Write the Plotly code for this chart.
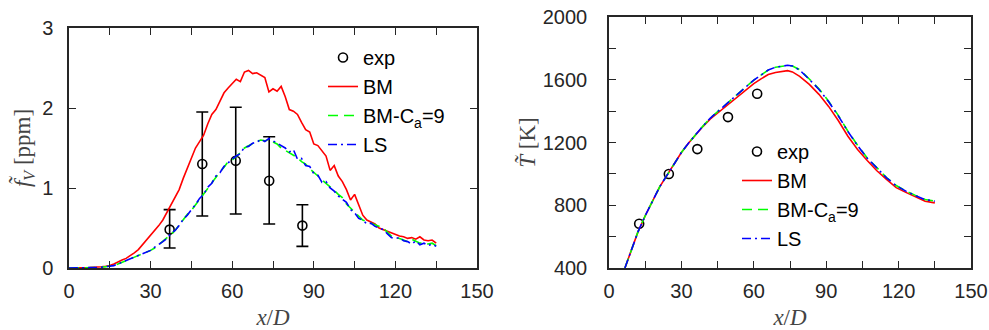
import plotly.graph_objects as go

# ---------------- Left panel: soot volume fraction ----------------
fv_x = [0, 1.5, 3, 4.5, 6, 7.5, 9, 10.5, 12, 13.5, 15, 16.5, 18, 19.5, 21, 22.5, 24, 25.5, 27, 28.5,
        30, 31.5, 33, 34.5, 36, 37.5, 39, 40.5, 42, 43.5, 45, 46.5, 48, 49.5, 51, 52.5, 54, 55.5, 57, 58.5,
        60, 61.5, 63, 64.5, 66, 67.5, 69, 70.5, 72, 73.5, 75, 76.5, 78, 79.5, 81, 82.5, 84, 85.5, 87, 88.5,
        90, 91.5, 93, 94.5, 96, 97.5, 99, 100.5, 102, 103.5, 105, 106.5, 108, 109.5, 111, 112.5, 114, 115.5,
        117, 118.5, 120, 121.5, 123, 124.5, 126, 127.5, 129, 130.5, 132, 133.5, 135]

fv_bm = [0, 0, 0, 0, 0, 0.005, 0.01, 0.01, 0.015, 0.02, 0.03, 0.05, 0.08, 0.10, 0.12, 0.15, 0.19, 0.23, 0.29, 0.35,
         0.41, 0.46, 0.53, 0.60, 0.70, 0.80, 0.88, 0.98, 1.12, 1.24, 1.38, 1.50, 1.58, 1.66, 1.80, 1.92, 1.98, 2.08, 2.19, 2.25,
         2.30, 2.36, 2.33, 2.45, 2.47, 2.43, 2.44, 2.41, 2.38, 2.20, 2.24, 2.21, 2.27, 2.14, 1.98, 1.96, 1.92, 1.82, 1.73, 1.70,
         1.55, 1.53, 1.47, 1.40, 1.22, 1.28, 1.15, 1.08, 0.98, 0.85, 0.92, 0.78, 0.66, 0.60, 0.58, 0.55, 0.50, 0.48,
         0.45, 0.43, 0.41, 0.40, 0.39, 0.37, 0.38, 0.36, 0.39, 0.35, 0.34, 0.35, 0.31]

fv_bmca = [0, 0, 0, 0, 0, 0.003, 0.005, 0.007, 0.01, 0.015, 0.02, 0.03, 0.05, 0.07, 0.09, 0.11, 0.13, 0.15, 0.17, 0.19,
           0.22, 0.25, 0.29, 0.33, 0.38, 0.42, 0.47, 0.54, 0.60, 0.67, 0.72, 0.79, 0.86, 0.93, 1.00, 1.07, 1.14, 1.20, 1.26, 1.33,
           1.35, 1.39, 1.44, 1.50, 1.53, 1.55, 1.58, 1.60, 1.59, 1.60, 1.57, 1.55, 1.50, 1.47, 1.44, 1.42, 1.38, 1.33, 1.30, 1.24,
           1.20, 1.15, 1.10, 1.06, 1.02, 0.97, 0.92, 0.88, 0.80, 0.75, 0.70, 0.66, 0.60, 0.58, 0.56, 0.54, 0.52, 0.50,
           0.45, 0.40, 0.38, 0.37, 0.35, 0.33, 0.36, 0.33, 0.31, 0.32, 0.30, 0.31, 0.28]

fv_ls = [0, 0, 0, 0, 0, 0.003, 0.005, 0.007, 0.01, 0.015, 0.02, 0.03, 0.05, 0.07, 0.09, 0.11, 0.13, 0.15, 0.17, 0.20,
         0.22, 0.26, 0.29, 0.33, 0.37, 0.43, 0.47, 0.53, 0.61, 0.66, 0.73, 0.79, 0.87, 0.92, 1.01, 1.06, 1.15, 1.19, 1.27, 1.32,
         1.36, 1.40, 1.43, 1.51, 1.52, 1.56, 1.57, 1.61, 1.58, 1.62, 1.59, 1.56, 1.52, 1.50, 1.45, 1.48, 1.36, 1.37, 1.28, 1.27,
         1.18, 1.16, 1.07, 1.08, 1.00, 0.96, 0.90, 0.86, 0.82, 0.73, 0.69, 0.62, 0.60, 0.55, 0.56, 0.52, 0.50, 0.48,
         0.43, 0.38, 0.37, 0.38, 0.34, 0.33, 0.30, 0.34, 0.29, 0.31, 0.28, 0.30, 0.27]

fv_exp_x = [37, 49, 61.3, 73.6, 85.8]
fv_exp = [0.48, 1.30, 1.34, 1.09, 0.53]
fv_exp_hi = [0.73, 1.95, 2.01, 1.64, 0.79]
fv_exp_lo = [0.25, 0.65, 0.675, 0.55, 0.27]

# ---------------- Right panel: temperature ----------------
T_x = [6.6, 9, 12, 15, 18, 21, 24, 27, 30, 33, 36, 39, 42, 45, 48, 51, 54, 57, 60, 63,
       66, 69, 72, 74, 76, 79, 83, 87, 91, 95, 99, 103, 107, 111, 115, 119, 123, 127, 131, 135]

T_bm = [400, 502, 630, 733, 826, 917, 990, 1063, 1136, 1197, 1252, 1303, 1350, 1387, 1426, 1465, 1504, 1541, 1575, 1606,
        1633, 1646, 1654, 1658, 1650, 1622, 1570, 1507, 1430, 1340, 1240, 1155, 1085, 1020, 965, 912, 882, 855, 826, 815]

T_bmca = [400, 502, 630, 733, 826, 917, 990, 1063, 1136, 1197, 1253, 1306, 1356, 1397, 1440, 1480, 1522, 1562, 1598, 1630,
          1662, 1680, 1689, 1691, 1688, 1664, 1605, 1542, 1463, 1373, 1272, 1182, 1102, 1036, 976, 926, 891, 863, 837, 827]

T_ls = [400, 502, 630, 733, 826, 917, 990, 1063, 1136, 1197, 1253, 1306, 1356, 1397, 1440, 1480, 1522, 1562, 1598, 1630,
        1662, 1680, 1690, 1692, 1688, 1662, 1602, 1538, 1460, 1370, 1270, 1180, 1100, 1035, 975, 925, 890, 862, 836, 826]

T_exp_x = [12.5, 24.8, 36.6, 49.3, 61.4]
T_exp = [682, 999, 1158, 1362, 1511]

legend_names = ["exp", "BM", "BM-C<sub>a</sub>=9", "LS"]

# ---------------- styles ----------------
AX = "#262626"
SANS = "Liberation Sans, Arial, sans-serif"
SERIF = "Liberation Serif, Times New Roman, serif"
RED, GREEN, BLUE = "#ff0000", "#00ff00", "#0000ff"
LW = 1.6

fig = go.Figure()

# left panel traces
fig.add_trace(go.Scatter(
    x=fv_exp_x, y=fv_exp, mode="markers", name=legend_names[0], legend="legend",
    marker=dict(symbol="circle-open", size=9, color="black", line=dict(width=1.6, color="black")),
    error_y=dict(type="data", symmetric=False,
                 array=[h - v for h, v in zip(fv_exp_hi, fv_exp)],
                 arrayminus=[v - l for v, l in zip(fv_exp, fv_exp_lo)],
                 color="black", thickness=1.6, width=6),
    xaxis="x", yaxis="y"))
fig.add_trace(go.Scatter(x=fv_x, y=fv_bm, mode="lines", name=legend_names[1], legend="legend",
                         line=dict(color=RED, width=LW), xaxis="x", yaxis="y"))
fig.add_trace(go.Scatter(x=fv_x, y=fv_bmca, mode="lines", name=legend_names[2], legend="legend",
                         line=dict(color=GREEN, width=LW, dash="10px,6px"), xaxis="x", yaxis="y"))
fig.add_trace(go.Scatter(x=fv_x, y=fv_ls, mode="lines", name=legend_names[3], legend="legend",
                         line=dict(color=BLUE, width=LW, dash="9px,4px,2px,4px"), xaxis="x", yaxis="y"))

# right panel traces
fig.add_trace(go.Scatter(x=T_exp_x, y=T_exp, mode="markers", name=legend_names[0], legend="legend2",
                         marker=dict(symbol="circle-open", size=9, color="black",
                                     line=dict(width=1.6, color="black")),
                         xaxis="x2", yaxis="y2"))
fig.add_trace(go.Scatter(x=T_x, y=T_bm, mode="lines", name=legend_names[1], legend="legend2",
                         line=dict(color=RED, width=LW), xaxis="x2", yaxis="y2"))
fig.add_trace(go.Scatter(x=T_x, y=T_bmca, mode="lines", name=legend_names[2], legend="legend2",
                         line=dict(color=GREEN, width=LW, dash="10px,6px"), xaxis="x2", yaxis="y2"))
fig.add_trace(go.Scatter(x=T_x, y=T_ls, mode="lines", name=legend_names[3], legend="legend2",
                         line=dict(color=BLUE, width=LW, dash="9px,4px,2px,4px"), xaxis="x2", yaxis="y2"))

W, H = 989, 330


def xax(domain, title):
    return dict(domain=domain, range=[0, 150], dtick=30, tick0=0,
                ticks="inside", ticklen=7, tickwidth=1.2, tickcolor=AX,
                minor=dict(dtick=15, tick0=0, ticks="inside", ticklen=7, tickwidth=1.2, tickcolor=AX, showgrid=False),
                showline=True, linecolor=AX, linewidth=1.5, mirror="ticks",
                showgrid=False, zeroline=False, automargin=False,
                ticklabelstandoff=4, ticklabeloverflow="allow",
                tickfont=dict(family=SANS, size=20, color=AX),
                title=dict(text=title, font=dict(family=SERIF, size=23, color="#444444"), standoff=8))


def yax(domain, rng, dtick, minor_dtick, title, anchor, standoff, lab_off):
    return dict(domain=domain, range=rng, dtick=dtick, tick0=rng[0], anchor=anchor,
                ticks="inside", ticklen=7, tickwidth=1.2, tickcolor=AX,
                minor=dict(dtick=minor_dtick, tick0=rng[0], ticks="inside", ticklen=7, tickwidth=1.2,
                           tickcolor=AX, showgrid=False),
                showline=True, linecolor=AX, linewidth=1.5, mirror="ticks",
                showgrid=False, zeroline=False, automargin=False,
                ticklabelstandoff=lab_off, ticklabeloverflow="allow",
                tickfont=dict(family=SANS, size=20, color=AX),
                title=dict(text=title, font=dict(family=SERIF, size=23, color="#444444"), standoff=standoff))


fig.update_layout(
    template="none",
    width=W, height=H,
    margin=dict(l=0, r=0, t=0, b=0),
    paper_bgcolor="white", plot_bgcolor="white",
    xaxis=dict(**xax([69 / W, 477 / W], "<i>x</i>/<i>D</i>"), anchor="y"),
    yaxis=yax([1 - 268 / H, 1 - 28 / H], [0, 3], 1, 1, "<i>f̃</i><sub><i>V</i></sub> [ppm]", "x", 5, 10),
    xaxis2=dict(**xax([609 / W, 971 / W], "<i>x</i>/<i>D</i>"), anchor="y2"),
    yaxis2=yax([1 - 268 / H, 1 - 17 / H], [400, 2000], 400, 200, "<i>T̃</i> [K]", "x2", 1, 16),
    legend=dict(x=323 / W, y=1 - 38 / H, xanchor="left", yanchor="top",
                bgcolor="rgba(0,0,0,0)", borderwidth=0,
                font=dict(family=SANS, size=20, color="black"), tracegroupgap=0),
    legend2=dict(x=737 / W, y=1 - 132 / H, xanchor="left", yanchor="top",
                 bgcolor="rgba(0,0,0,0)", borderwidth=0,
                 font=dict(family=SANS, size=20, color="black"), tracegroupgap=0),
    showlegend=True,
)

# remove the browser's default 8px page margin so the figure sits at the window's corner
fig.write_html("out.html", config={"displayModeBar": False},
               post_script="document.body.style.margin='0px';")
